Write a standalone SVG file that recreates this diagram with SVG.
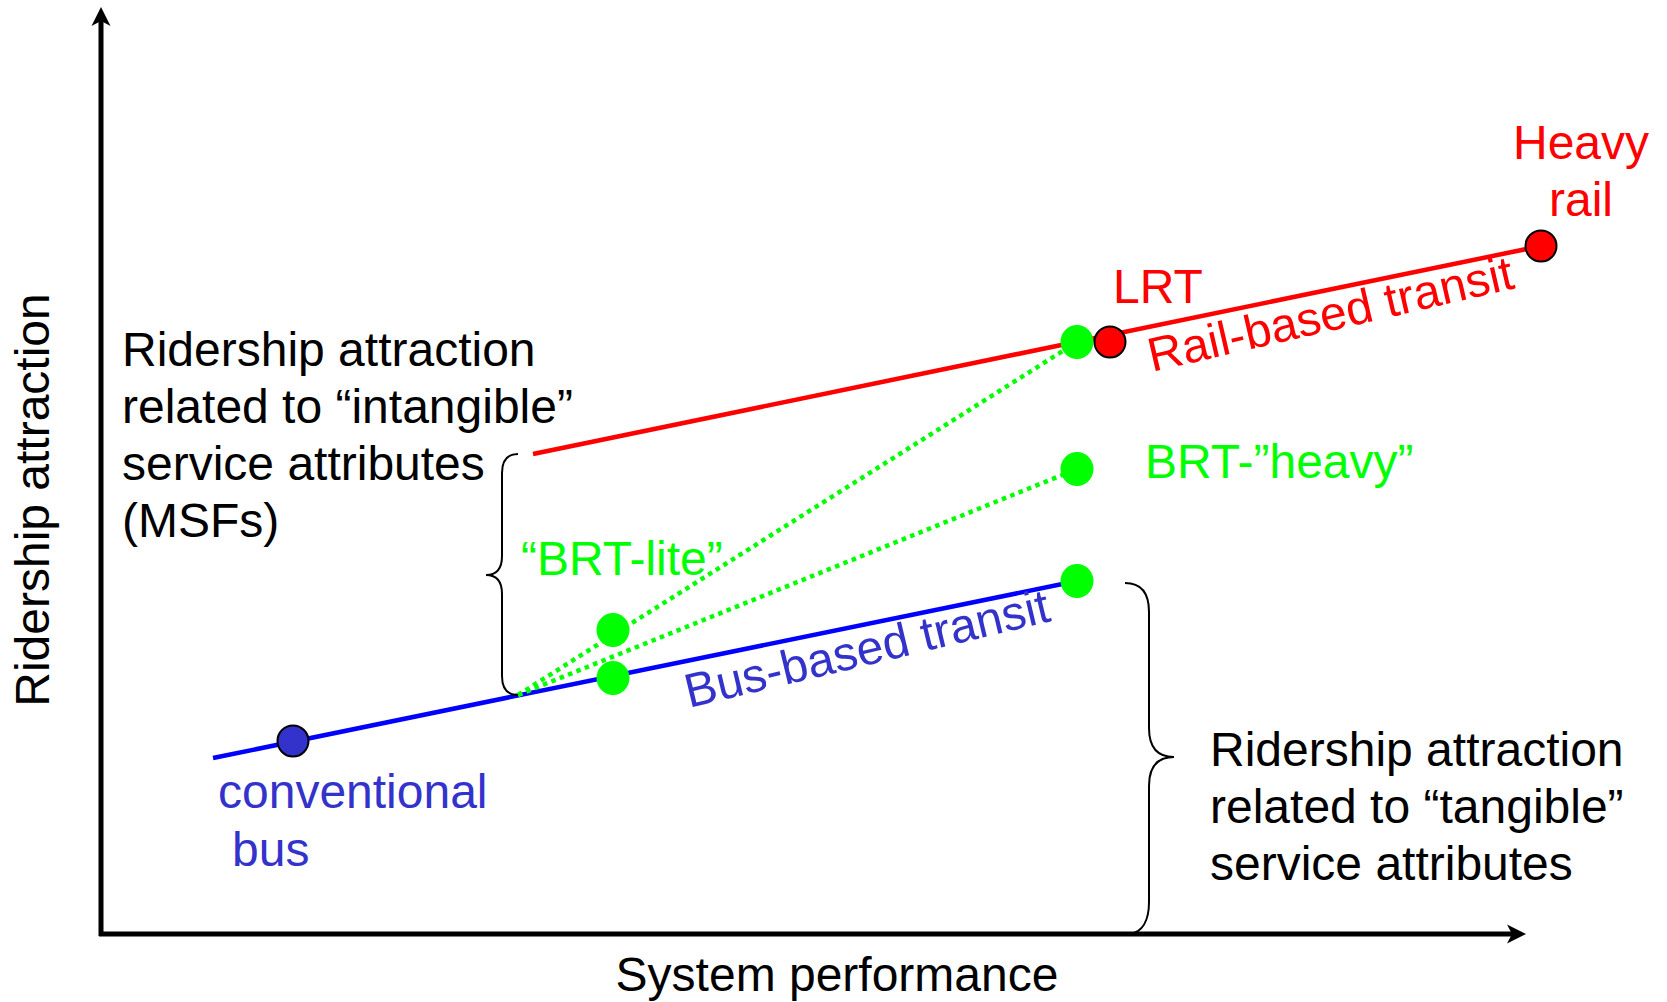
<svg xmlns="http://www.w3.org/2000/svg" width="1667" height="1002" viewBox="0 0 1667 1002">
<style>
text{font-family:"Liberation Sans",Arial,sans-serif;font-size:48px}
.k{fill:#000}
.r{fill:#ff0000}
.g{fill:#00ff00}
.b{fill:#3333cc}
.axis{stroke:#000;stroke-width:5;fill:none}
.brace{stroke:#000;stroke-width:2;fill:none}
.dot{stroke:#00ff00;stroke-width:4.5;stroke-dasharray:4.5 4.5;fill:none}
.mode{stroke:#000;stroke-width:2}
.gd{fill:#00ff00}
</style>
<defs>
<marker id="ah" markerUnits="userSpaceOnUse" viewBox="-20 -10 22 20" markerWidth="22" markerHeight="20" refX="-12" refY="0" orient="auto">
<path d="M0,0 L-19,-9.5 L-14,0 L-19,9.5 Z" fill="#000"/>
</marker>
</defs>
<g id="axes">
<line class="axis" x1="101" y1="936" x2="101" y2="19" marker-end="url(#ah)"/>
<line class="axis" x1="99" y1="934" x2="1514" y2="934" marker-end="url(#ah)"/>
</g>
<g id="connectors">
<line x1="533" y1="454" x2="1541" y2="246" stroke="#ff0000" stroke-width="4.5"/>
<line x1="213" y1="758" x2="1077" y2="581" stroke="#0000ff" stroke-width="4.5"/>
<line class="dot" x1="518" y1="695" x2="1077" y2="342"/>
<line class="dot" x1="518" y1="695" x2="1077" y2="469"/>
<path class="brace" d="M518,454 C507,454 502,460 502,473 L502,556 C502,569 497,575 486,575 C497,575 502,581 502,594 L502,676 C502,689 507,695 518,695"/>
<path class="brace" d="M1125,583 C1141,583 1149,593 1149,612 L1149,728 C1149,748 1158,757 1174,757 C1158,757 1149,766 1149,786 L1149,902 C1149,921 1142,932 1130,934"/>
</g>
<g id="node-heavy-rail">
<circle class="mode" cx="1541" cy="246" r="15.5" fill="#ff0000"/>
<text class="r" x="1581" y="159" text-anchor="middle">Heavy</text>
<text class="r" x="1581" y="216" text-anchor="middle">rail</text>
</g>
<g id="node-brt-rail">
<ellipse class="gd" cx="1077" cy="342" rx="16.5" ry="17"/>
</g>
<g id="node-lrt">
<circle class="mode" cx="1110" cy="342" r="15.5" fill="#ff0000"/>
<text class="r" x="1113" y="303">LRT</text>
</g>
<g id="label-rail">
<text class="r" transform="translate(1152,372) rotate(-13)">Rail-based transit</text>
</g>
<g id="node-brt-heavy">
<ellipse class="gd" cx="1077" cy="469" rx="16.5" ry="17"/>
<text class="g" x="1145" y="478">BRT-”heavy”</text>
</g>
<g id="node-brt-bus-top">
<ellipse class="gd" cx="1077" cy="581" rx="16.5" ry="17"/>
</g>
<g id="node-brt-lite">
<ellipse class="gd" cx="613" cy="630" rx="16.5" ry="17"/>
<ellipse class="gd" cx="613" cy="678" rx="16.5" ry="17"/>
<text class="g" x="521" y="575">“BRT-lite”</text>
</g>
<g id="label-bus">
<text class="b" transform="translate(689,708) rotate(-13.5)">Bus-based transit</text>
</g>
<g id="node-conventional-bus">
<circle class="mode" cx="293" cy="741" r="15.5" fill="#3333cc"/>
<text class="b" x="218" y="808">conventional</text>
<text class="b" x="232" y="866">bus</text>
</g>
<g id="label-intangible">
<text class="k" x="122" y="366">Ridership attraction</text>
<text class="k" x="122" y="423">related to “intangible”</text>
<text class="k" x="122" y="480">service attributes</text>
<text class="k" x="122" y="537">(MSFs)</text>
</g>
<g id="label-tangible">
<text class="k" x="1210" y="766">Ridership attraction</text>
<text class="k" x="1210" y="823">related to “tangible”</text>
<text class="k" x="1210" y="880">service attributes</text>
</g>
<g id="axis-labels">
<text class="k" x="837" y="991" text-anchor="middle">System performance</text>
<text class="k" transform="translate(49,500) rotate(-90)" text-anchor="middle">Ridership attraction</text>
</g>
</svg>
